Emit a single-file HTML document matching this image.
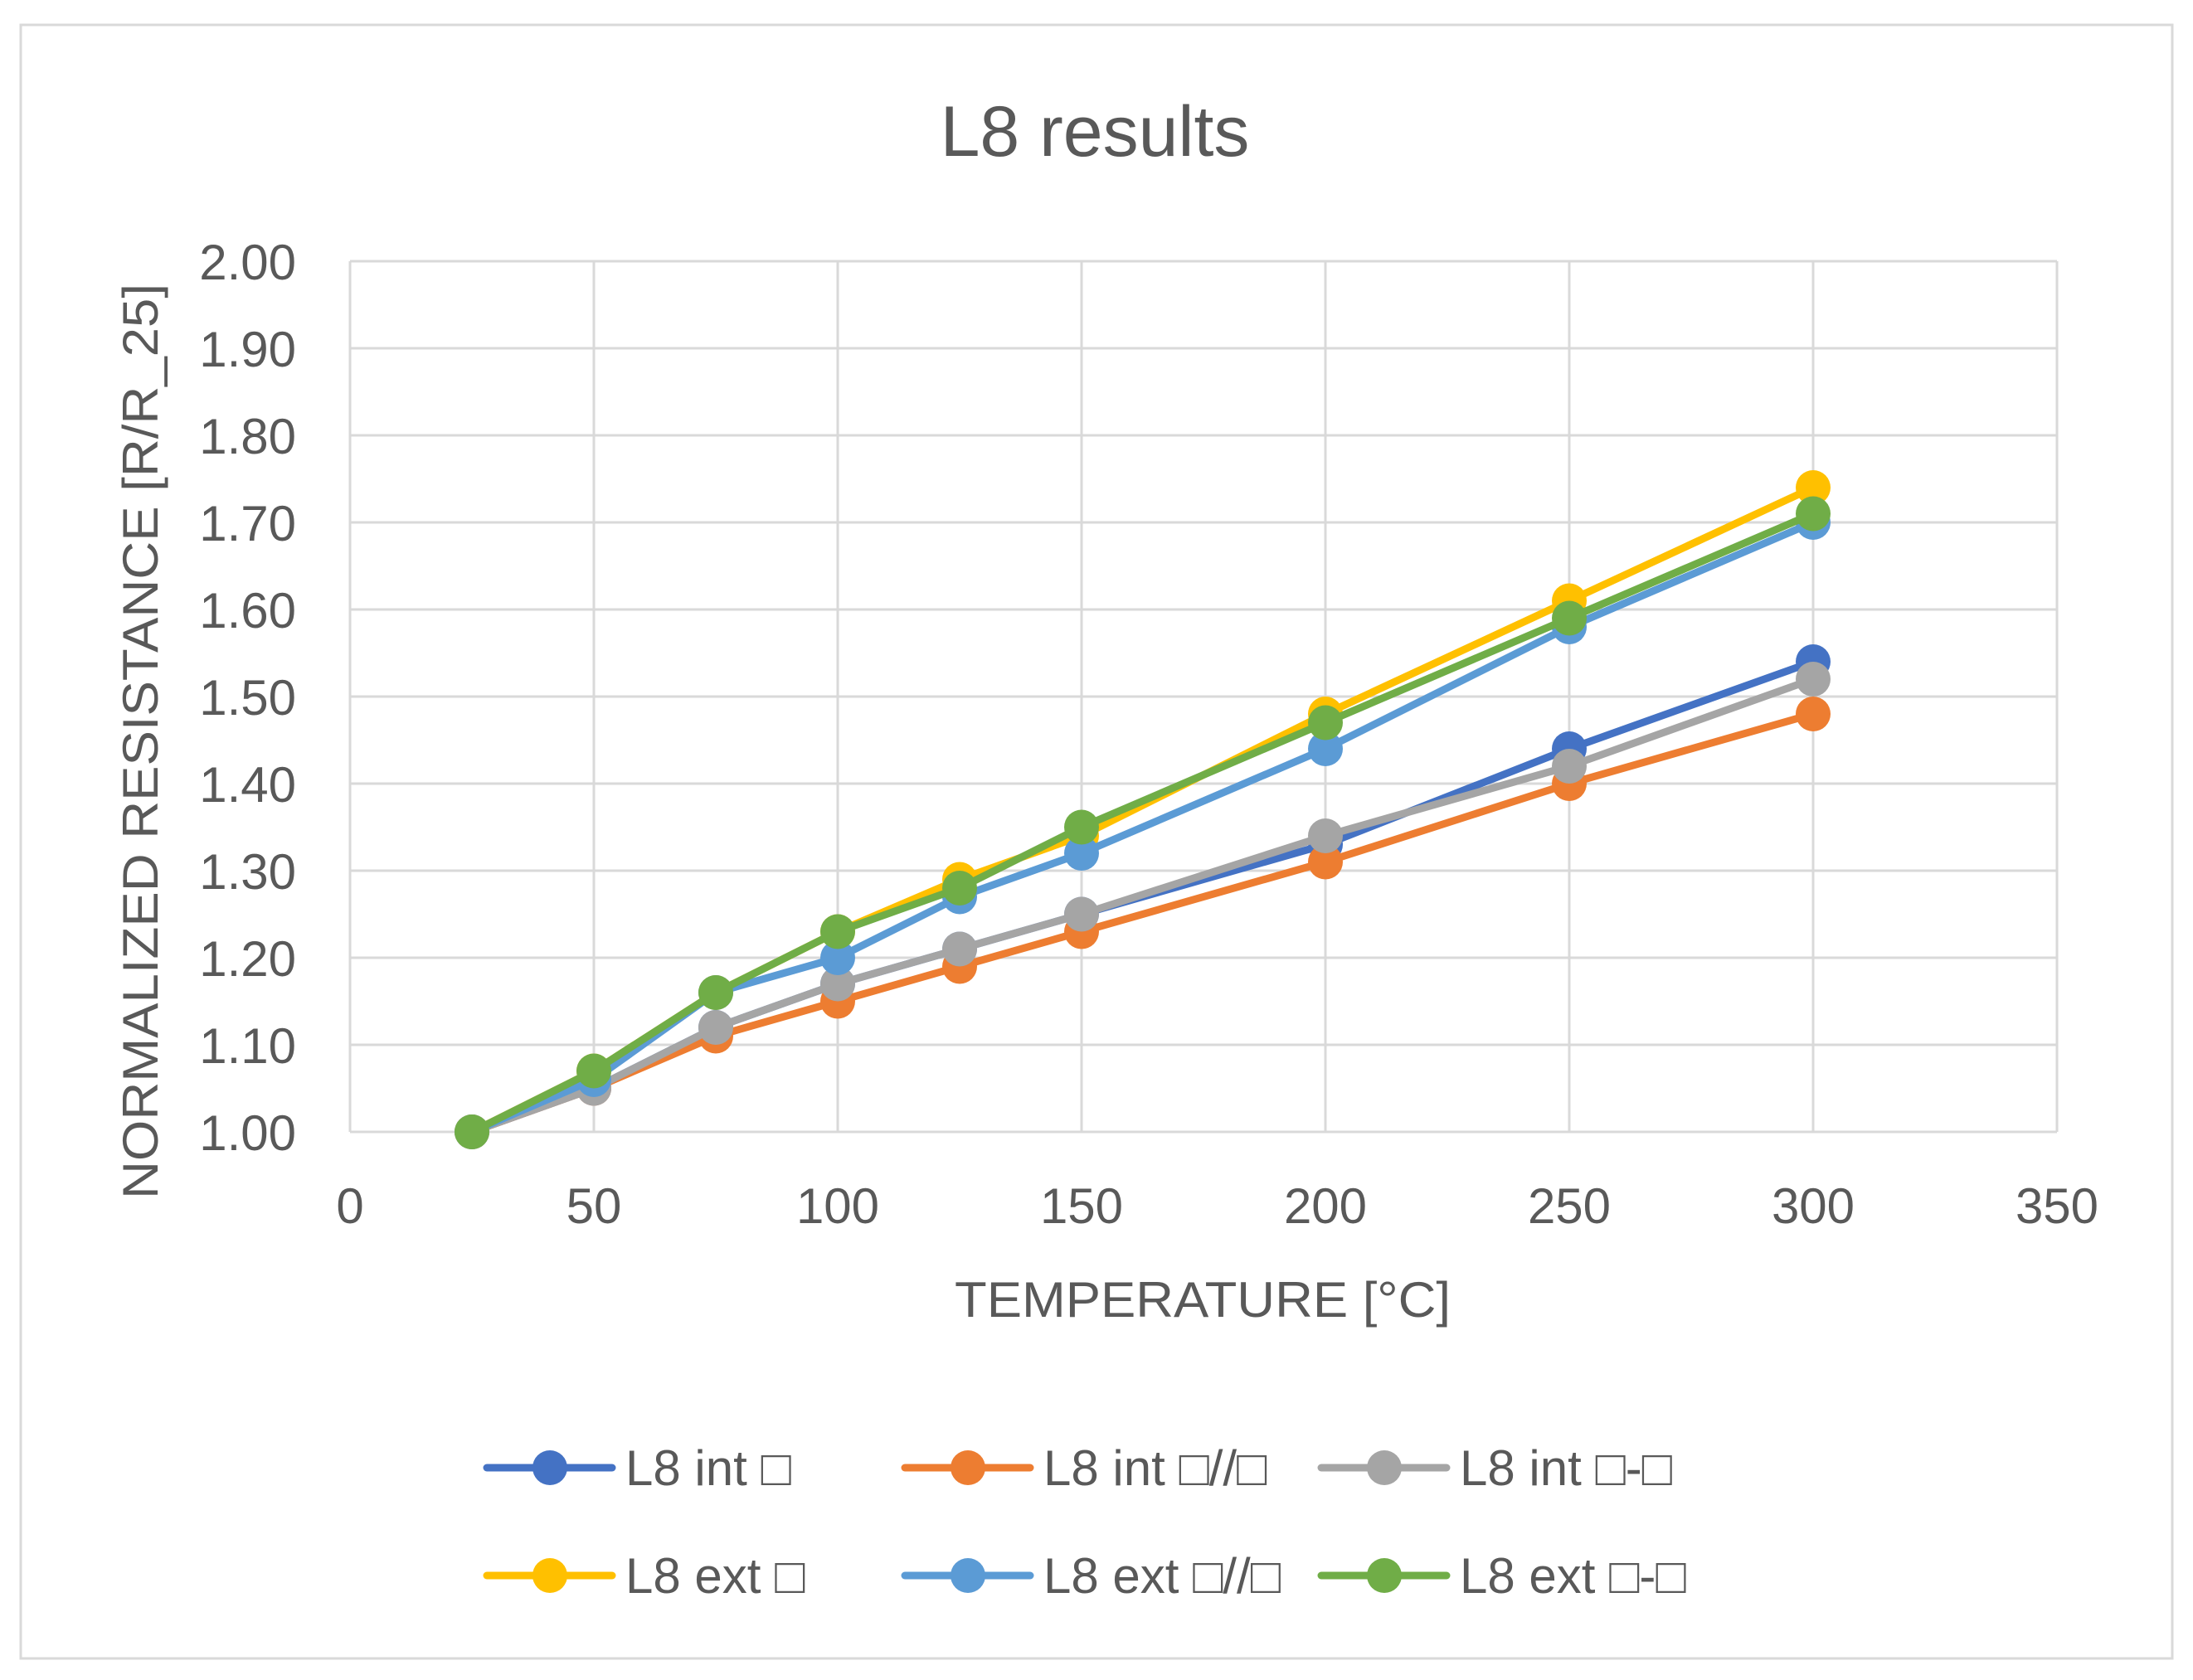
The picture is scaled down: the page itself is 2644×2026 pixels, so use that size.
<!DOCTYPE html>
<html><head><meta charset="utf-8"><style>
html,body{margin:0;padding:0;background:#fff;}
svg{display:block;font-family:"Liberation Sans",sans-serif;}
</style></head><body>
<svg id="chart" width="2644" height="2026" viewBox="0 0 2644 2026" xmlns="http://www.w3.org/2000/svg">
<rect x="25" y="30" width="2594" height="1970" fill="#fff" stroke="#d9d9d9" stroke-width="3"/>
<text x="1320" y="188" font-size="86" fill="#595959" text-anchor="middle">L8 results</text>
<g id="grid"></g><g id="series"></g>
<text x="1450" y="1588" font-size="60" fill="#595959" text-anchor="middle" textLength="598" lengthAdjust="spacingAndGlyphs">TEMPERATURE [°C]</text>
<text transform="translate(190,894) rotate(-90)" font-size="60" fill="#595959" text-anchor="middle" textLength="1104" lengthAdjust="spacingAndGlyphs">NORMALIZED RESISTANCE [R/R_25]</text>
<g id="legend"></g>
</svg>
<script>
const temps = [25, 50, 75, 100, 125, 150, 200, 250, 300];
const intSquare = [1.00, 1.05, 1.12, 1.17, 1.21, 1.25, 1.33, 1.44, 1.54];
const intParallel = [1.00, 1.05, 1.11, 1.15, 1.19, 1.23, 1.31, 1.40, 1.48];
const intDash = [1.00, 1.05, 1.12, 1.17, 1.21, 1.25, 1.34, 1.42, 1.52];
const extSquare = [1.00, 1.07, 1.16, 1.23, 1.29, 1.34, 1.48, 1.61, 1.74];
const extParallel = [1.00, 1.06, 1.16, 1.20, 1.27, 1.32, 1.44, 1.58, 1.70];
const extDash = [1.00, 1.07, 1.16, 1.23, 1.28, 1.35, 1.47, 1.59, 1.71];
const seriesNames = ["L8 int \u25A1", "L8 int \u25A1//\u25A1", "L8 int \u25A1-\u25A1", "L8 ext \u25A1", "L8 ext \u25A1//\u25A1", "L8 ext \u25A1-\u25A1"];
const xTicks = [0, 50, 100, 150, 200, 250, 300, 350];
const yTicks = [1.0, 1.1, 1.2, 1.3, 1.4, 1.5, 1.6, 1.7, 1.8, 1.9, 2.0];

const colors = ["#4472C4", "#ED7D31", "#A5A5A5", "#FFC000", "#5B9BD5", "#70AD47"];
const allSeries = [intSquare, intParallel, intDash, extSquare, extParallel, extDash];
const L = 422, R = 2480, T = 315, B = 1365;
const X = v => L + (v - 0) / 350 * (R - L);
const Y = v => B - (v - 1) / 1 * (B - T);
const NS = "http://www.w3.org/2000/svg";
function mk(tag, attrs, parent, text) {
  const e = document.createElementNS(NS, tag);
  for (const k in attrs) e.setAttribute(k, attrs[k]);
  if (text !== undefined) e.textContent = text;
  parent.appendChild(e); return e;
}
const grid = document.getElementById('grid');
yTicks.forEach(t => {
  const ln = mk('line', {x1: L, x2: R, y1: Y(t), y2: Y(t), stroke: '#d9d9d9', 'stroke-width': 3}, grid);
  
  
  const tx = mk('text', {x: 357, y: Y(t) + 22, 'font-size': 60, fill: '#595959', 'text-anchor': 'end'}, grid, t.toFixed(2));
  
  
});
xTicks.forEach(t => {
  const ln = mk('line', {x1: X(t), x2: X(t), y1: T, y2: B, stroke: '#d9d9d9', 'stroke-width': 3}, grid);
  
  
  const tx = mk('text', {x: X(t), y: 1475, 'font-size': 60, fill: '#595959', 'text-anchor': 'middle'}, grid, String(t));
  
  
});
const sg = document.getElementById('series');
allSeries.forEach((vals, i) => {
  const g = mk('g', {}, sg);
  
  
  const pts = vals.map((v, j) => X(temps[j]) + ',' + Y(v)).join(' ');
  const pl = mk('polyline', {points: pts, fill: 'none', stroke: colors[i], 'stroke-width': 9, 'stroke-linejoin': 'round'}, g);
  
  
  vals.forEach((v, j) => {
    const c = mk('circle', {cx: X(temps[j]), cy: Y(v), r: 21, fill: colors[i]}, g);
    
    
  });
});
const lg = document.getElementById('legend');
const colX = [587, 1091, 1593], rowY = [1770, 1900];
seriesNames.forEach((n, i) => {
  const x = colX[i % 3], y = rowY[Math.floor(i / 3)];
  const g = mk('g', {}, lg);
  
  
  mk('line', {x1: x, x2: x + 151, y1: y, y2: y, stroke: colors[i], 'stroke-width': 9, 'stroke-linecap': 'round'}, g);
  mk('circle', {cx: x + 76, cy: y, r: 21, fill: colors[i]}, g);
  mk('text', {x: x + 167, y: y + 21, 'font-size': 60, fill: '#595959'}, g, n);
});
</script>
</body></html>
